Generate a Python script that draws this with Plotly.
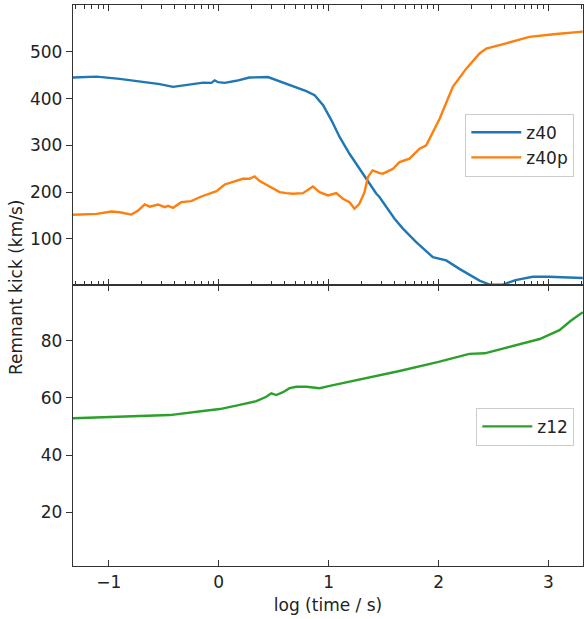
import numpy as np
import plotly.graph_objects as go
from plotly.subplots import make_subplots

# ---- data ----
z40_t = [-1.325, -1.11, -0.9, -0.69, -0.536, -0.415, -0.26, -0.14, -0.066, -0.036, -0.006,
         0.055, 0.16, 0.28, 0.448, 0.525, 0.645, 0.797, 0.873, 0.95, 1.025, 1.1, 1.19,
         1.28, 1.373, 1.433, 1.464, 1.555, 1.6, 1.676, 1.797, 1.948, 2.07, 2.19, 2.373,
         2.47, 2.58, 2.7, 2.857, 3.0, 3.312]
z40_v = [445, 447, 442, 435, 431, 425, 430, 434, 433.5, 439, 435,
         433.5, 438, 445, 446, 439, 429, 416, 407, 386, 354, 318, 282,
         250, 218, 197, 189, 157, 143, 122, 93, 61, 54, 36, 11,
         2, 2, 12, 19, 19, 16.5]

z40p_t = [-1.325, -1.11, -0.975, -0.9, -0.794, -0.733, -0.673, -0.627, -0.552, -0.49, -0.46,
          -0.415, -0.34, -0.25, -0.157, -0.082, -0.02, 0.055, 0.145, 0.22, 0.28, 0.327,
          0.373, 0.464, 0.555, 0.615, 0.676, 0.767, 0.857, 0.918, 0.994, 1.07, 1.13, 1.19,
          1.236, 1.28, 1.327, 1.357, 1.4, 1.464, 1.494, 1.585, 1.645, 1.736, 1.827, 1.888,
          2.01, 2.13, 2.252, 2.373, 2.434, 2.615, 2.827, 3.07, 3.312]
z40p_v = [151.5, 153.6, 158.6, 157, 152, 160.7, 173.6, 169, 173.6, 167.8, 170.8,
          166.5, 178.6, 180.7, 190.7, 196.5, 202, 216.4, 223.5, 228.6, 228.6, 233.6,
          223.5, 212, 200, 197.8, 196.5, 197.8, 212, 200, 193, 197.8, 185.8, 178.6,
          164.4, 175, 200, 232, 246.4, 240.7, 239.4, 250, 264.3, 271.5, 293, 300,
          357, 425, 464, 496.5, 507, 518, 532, 538, 543]

z12_t = [-1.325, -0.748, -0.445, -0.143, 0.01, 0.16, 0.343, 0.433, 0.479, 0.524, 0.585,
         0.645, 0.706, 0.797, 0.918, 1.01, 1.28, 1.645, 2.0, 2.28, 2.42, 2.92, 3.1, 3.2, 3.312]
z12_v = [52.9, 53.45, 54, 55.4, 56.1, 57.3, 58.9, 60.4, 61.6, 61, 62,
         63.4, 63.9, 63.9, 63.4, 64.2, 66.3, 69.4, 72.6, 75.4, 75.6, 80.6, 83.7, 86.9, 90]

x_ticks = [-1, 0, 1, 2, 3]
x_tick_text = ["\u22121", "0", "1", "2", "3"]
top_y_ticks = [100, 200, 300, 400, 500]
bot_y_ticks = [20, 40, 60, 80]

x_range = [-1.325, 3.314]
top_y_range = [1.5, 600]
bot_y_range = [1.2, 99.5]

minor_vals = [k + np.log10(m) for k in range(-2, 4) for m in range(2, 10)]
minor_vals = [v for v in minor_vals if x_range[0] < v < x_range[1]]

FONT = "DejaVu Sans"
AX = "#333333"
TXT = "#222222"
FS = 17

fig = make_subplots(rows=2, cols=1, shared_xaxes=True, vertical_spacing=0,
                    row_heights=[280, 281])

fig.add_trace(go.Scatter(x=z40_t, y=z40_v, mode="lines", name="z40",
                         line=dict(color="#1f77b4", width=2.4), legend="legend"), row=1, col=1)
fig.add_trace(go.Scatter(x=z40p_t, y=z40p_v, mode="lines", name="z40p",
                         line=dict(color="#ff7f0e", width=2.4), legend="legend"), row=1, col=1)
fig.add_trace(go.Scatter(x=z12_t, y=z12_v, mode="lines", name="z12",
                         line=dict(color="#2ca02c", width=2.4), legend="legend2"), row=2, col=1)

common_x = dict(range=x_range, showline=True, linecolor=AX, linewidth=1.3, mirror="ticks",
                ticks="inside", ticklen=6, tickwidth=1.3, tickcolor=AX,
                tickmode="array", tickvals=x_ticks, ticktext=x_tick_text,
                showgrid=False, zeroline=False,
                tickfont=dict(family=FONT, size=FS, color=TXT))

fig.update_xaxes(**common_x, showticklabels=False,
                 minor=dict(tickmode="array", tickvals=minor_vals, ticks="inside",
                            ticklen=3.5, tickwidth=1, tickcolor=AX, showgrid=False),
                 row=1, col=1)
fig.update_xaxes(**common_x, showticklabels=True,
                 title=dict(text="log (time / s)", font=dict(family=FONT, size=FS, color=TXT),
                            standoff=8),
                 row=2, col=1)

common_y = dict(showline=True, linecolor=AX, linewidth=1.3, mirror=True,
                ticks="outside", ticklen=6, tickwidth=1.3, tickcolor=AX,
                showgrid=False, zeroline=False,
                tickfont=dict(family=FONT, size=FS, color=TXT))
fig.update_yaxes(**common_y, range=top_y_range, tickvals=top_y_ticks, row=1, col=1)
fig.update_yaxes(**common_y, range=bot_y_range, tickvals=bot_y_ticks, row=2, col=1)

fig.add_annotation(text="Remnant kick (km/s)", xref="paper", yref="paper",
                   x=-0.112, y=0.497, xanchor="center", yanchor="middle",
                   textangle=-90, showarrow=False,
                   font=dict(family=FONT, size=FS, color=TXT))

legend_common = dict(bgcolor="rgba(255,255,255,0.8)", bordercolor="#cccccc", borderwidth=1,
                     font=dict(family=FONT, size=FS, color=TXT), itemwidth=50,
                     xanchor="right", yanchor="middle")
fig.update_layout(
    width=584, height=619,
    margin=dict(l=73, r=1, t=5, b=53),
    paper_bgcolor="white", plot_bgcolor="white",
    font=dict(family=FONT, size=FS, color=TXT),
    legend=dict(**legend_common, x=0.983, y=0.750),
    legend2=dict(**legend_common, x=0.983, y=0.248),
    showlegend=True,
)

fig.write_html("out.html", config={"displayModeBar": False},
               post_script="document.body.style.margin='0px';")
